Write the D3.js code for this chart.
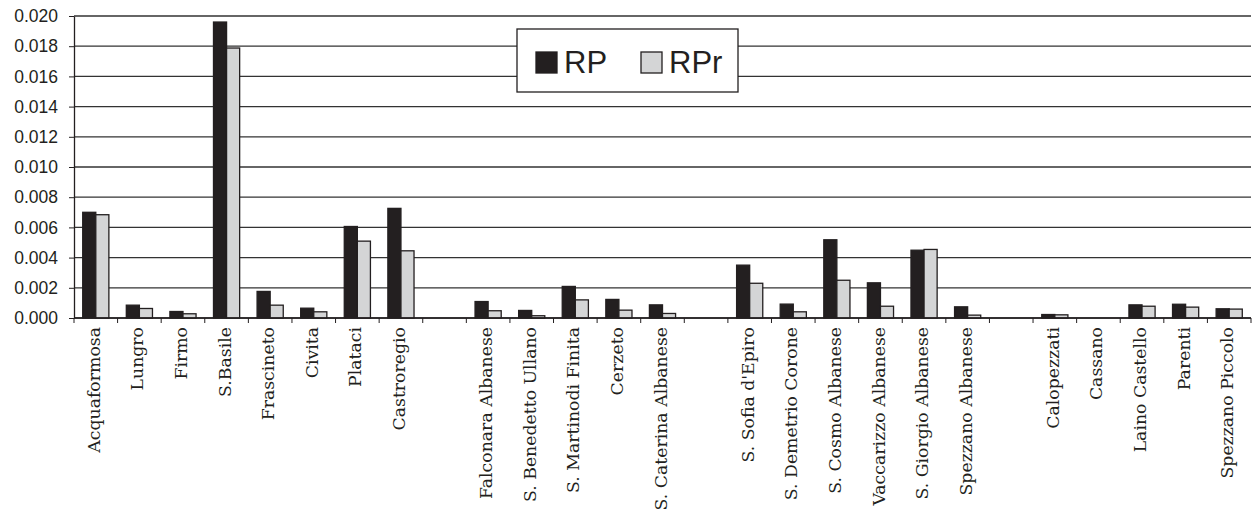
<!DOCTYPE html>
<html>
<head>
<meta charset="utf-8">
<script src="https://cdn.jsdelivr.net/npm/d3@7"></script>
<style>
  body { margin: 0; background: #fff; }
  svg { display: block; }
</style>
</head>
<body>
<div id="chart"></div>
<script>
// chart data
var categories = [
  "Acquaformosa", "Lungro", "Firmo", "S.Basile", "Frascineto", "Civita", "Plataci", "Castroregio",
  "",
  "Falconara Albanese", "S. Benedetto Ullano", "S. Martinodi Finita", "Cerzeto", "S. Caterina Albanese",
  "",
  "S. Sofia d'Epiro", "S. Demetrio Corone", "S. Cosmo Albanese", "Vaccarizzo Albanese", "S. Giorgio Albanese", "Spezzano Albanese",
  "",
  "Calopezzati", "Cassano", "Laino Castello", "Parenti", "Spezzano Piccolo"
];
var rpValues = [
  0.0070, 0.00085, 0.00043, 0.0196, 0.00176, 0.00065, 0.00606, 0.00726,
  null,
  0.00109, 0.00050, 0.00209, 0.00123, 0.00087,
  null,
  0.00350, 0.00092, 0.00518, 0.00233, 0.00449, 0.00074,
  null,
  0.00023, 0, 0.00087, 0.00091, 0.00061
];
var rprValues = [
  0.00684, 0.00063, 0.00028, 0.01788, 0.00085, 0.00041, 0.00509, 0.00445,
  null,
  0.00048, 0.00015, 0.00120, 0.00052, 0.00030,
  null,
  0.00230, 0.00041, 0.00250, 0.00078, 0.00454, 0.00019,
  null,
  0.00021, 0, 0.00078, 0.00072, 0.00059
];
var seriesNames = ["RP", "RPr"];
var yTicks = [0, 0.002, 0.004, 0.006, 0.008, 0.010, 0.012, 0.014, 0.016, 0.018, 0.020];

var svgWidth = 1252;
var svgHeight = 514;
var margin = { top: 16, right: 1, bottom: 196, left: 74 };
var width = svgWidth - margin.left - margin.right;
var height = svgHeight - margin.top - margin.bottom;

var colors = { RP: "#231f20", RPr: "#d4d5d6" };
var ink = "#231f20";

var svg = d3.select("#chart").append("svg")
  .attr("width", svgWidth)
  .attr("height", svgHeight);

var chartGroup = svg.append("g")
  .attr("transform", `translate(${margin.left}, ${margin.top})`);

var x = d3.scaleBand()
  .domain(d3.range(categories.length))
  .range([0, width])
  .padding(0);

var x1 = d3.scaleBand()
  .domain(seriesNames)
  .range([x.bandwidth() * 0.2, x.bandwidth() * 0.8])
  .padding(0);

var y = d3.scaleLinear()
  .domain([0, 0.020])
  .range([height, 0]);

// gridlines
chartGroup.append("g")
  .selectAll("line")
  .data(yTicks)
  .enter()
  .append("line")
    .attr("x1", 0)
    .attr("x2", width)
    .attr("y1", d => y(d))
    .attr("y2", d => y(d))
    .attr("stroke", "#333")
    .attr("stroke-width", 1.3);

// y axis
var yAxis = chartGroup.append("g")
  .call(d3.axisLeft(y).tickValues(yTicks).tickFormat(d3.format(".3f")).tickSizeInner(5).tickSizeOuter(0).tickPadding(11));
yAxis.select(".domain").attr("stroke", ink).attr("stroke-width", 1.3);
yAxis.selectAll(".tick line").attr("stroke", ink);
yAxis.selectAll("text")
  .attr("font-family", "'Liberation Sans', Arial, sans-serif")
  .attr("font-size", "17.5px")
  .attr("fill", ink);

// bars
var rows = categories.map(function (c, i) {
  return { i: i, RP: rpValues[i], RPr: rprValues[i] };
}).filter(d => d.RP !== null);

chartGroup.append("g")
  .selectAll("g")
  .data(rows)
  .enter()
  .append("g")
    .attr("transform", d => `translate(${x(d.i)},0)`)
  .selectAll("rect")
  .data(d => seriesNames.map(k => ({ key: k, value: d[k] })))
  .enter()
  .append("rect")
    .attr("x", d => x1(d.key))
    .attr("width", x1.bandwidth())
    .attr("y", d => y(d.value))
    .attr("height", d => height - y(d.value))
    .attr("fill", d => colors[d.key])
    .attr("stroke", ink)
    .attr("stroke-width", 1.3);

// x axis line and ticks between categories
var xAxis = chartGroup.append("g")
  .attr("transform", "translate(0," + height + ")");
xAxis.append("line")
  .attr("x1", 0)
  .attr("x2", width)
  .attr("stroke", ink)
  .attr("stroke-width", 1.3);
xAxis.selectAll(".sep")
  .data(d3.range(categories.length + 1))
  .enter()
  .append("line")
    .attr("class", "sep")
    .attr("x1", d => d * x.step())
    .attr("x2", d => d * x.step())
    .attr("y1", 0)
    .attr("y2", 5)
    .attr("stroke", ink);

// category labels
xAxis.selectAll(".lbl")
  .data(categories)
  .enter()
  .append("text")
    .attr("class", "lbl")
    .attr("transform", (d, i) => `translate(${x(i) + x.bandwidth() / 2 - 2},9) rotate(-90)`)
    .attr("text-anchor", "end")
    .attr("dy", "0.35em")
    .attr("font-family", "'DejaVu Serif', serif")
    .attr("font-size", "17.3px")
    .attr("fill", ink)
    .text(d => d);

// legend
var legend = svg.append("g")
  .attr("transform", "translate(517,29)");
legend.append("rect")
  .attr("width", 221)
  .attr("height", 63)
  .attr("fill", "#fff")
  .attr("stroke", ink)
  .attr("stroke-width", 1.3);
var legendX = [19, 124];
seriesNames.forEach(function (k, i) {
  legend.append("rect")
    .attr("x", legendX[i])
    .attr("y", 23)
    .attr("width", 21)
    .attr("height", 21)
    .attr("fill", colors[k])
    .attr("stroke", ink)
    .attr("stroke-width", 1.3);
  legend.append("text")
    .attr("x", legendX[i] + 28)
    .attr("y", 44)
    .attr("font-family", "'Liberation Sans', Arial, sans-serif")
    .attr("font-size", "31px")
    .attr("fill", ink)
    .text(k);
});
</script>
</body>
</html>
